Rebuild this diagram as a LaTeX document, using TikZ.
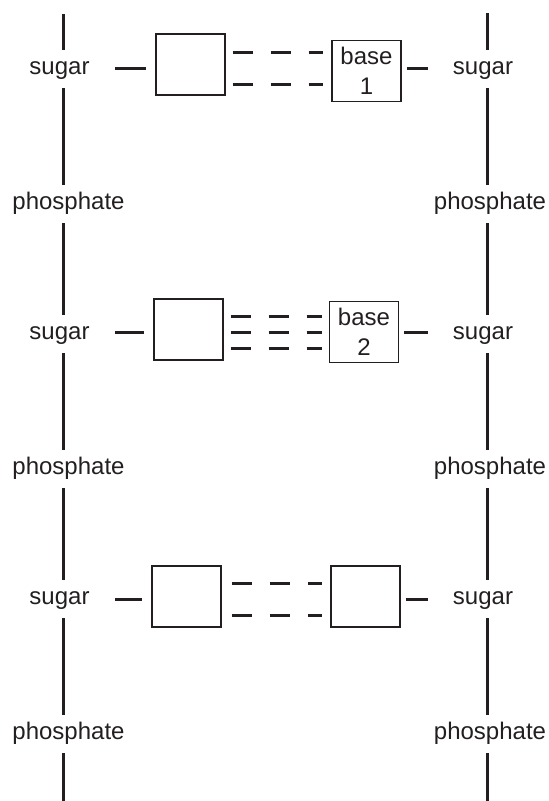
\documentclass[tikz,border=0pt]{standalone}
\usepackage{fontspec}
\setmainfont{Liberation Sans}
\begin{document}
\definecolor{ink}{HTML}{231F20}
\begin{tikzpicture}[x=1pt,y=-1pt,
  lbl/.style={font=\fontsize{24}{28}\selectfont, text=ink, inner sep=0pt,
              text height=16pt, text depth=6pt, minimum height=38pt},
  spine/.style={line width=3pt, draw=ink},
  bond/.style={line width=3pt, draw=ink},
  hbond/.style={bond, dash pattern=on 20pt off 18pt},
  basebox/.style={draw=ink, line width=1.2pt, minimum width=69pt, minimum height=61pt,
                  inner sep=0pt, align=center, text=ink, font=\fontsize{24}{30}\selectfont}]
\useasboundingbox (0,0) rectangle (549,801);

% labels
\foreach \r/\dy in {1/0,2/265,3/530}{
  \node[lbl] (sL\r) at (59.5,69+\dy) {sugar};
  \node[lbl] (pL\r) at (68.5,204+\dy) {phosphate};
  \node[lbl] (sR\r) at (483,69+\dy) {sugar};
  \node[lbl] (pR\r) at (490,204+\dy) {phosphate};
}

% spines
\coordinate (tL) at (63,14);  \coordinate (bL) at (63,801);
\coordinate (tR) at (487,13); \coordinate (bR) at (487,801);
\draw[spine] (tL) -- (tL |- sL1.north);
\draw[spine] (tR) -- (tR |- sR1.north);
\foreach \r in {1,2,3}{
  \draw[spine] (tL |- sL\r.south) -- (tL |- pL\r.north);
  \draw[spine] (tR |- sR\r.south) -- (tR |- pR\r.north);
}
\foreach \r/\n in {1/2,2/3}{
  \draw[spine] (tL |- pL\r.south) -- (tL |- sL\n.north);
  \draw[spine] (tR |- pR\r.south) -- (tR |- sR\n.north);
}
\draw[spine] (tL |- pL3.south) -- (bL);
\draw[spine] (tR |- pR3.south) -- (bR);

% row levels
\coordinate (y1) at (0,68);
\coordinate (y2) at (0,332);
\coordinate (y3) at (0,599);

% boxes
\node[basebox] (bL1) at (190.5,64.5) {};
\node[basebox] (bR1) at (366.5,71) {base\\1};
\node[basebox] (bL2) at (188.5,329.5) {};
\node[basebox] (bR2) at (364,332) {base\\2};
\node[basebox] (bL3) at (186.5,596.5) {};
\node[basebox] (bR3) at (365.5,596.5) {};

% connectors sugar - box
\foreach \r in {1,2,3}{
  \draw[bond] (115,0 |- y\r) coordinate (a\r) -- ([xshift=-9pt]bL\r.west |- y\r);
  \draw[bond] ([xshift=5pt]bR\r.east |- y\r) -- ([xshift=-25pt]sR\r.west |- y\r);
}

% hydrogen bonds
\draw[hbond] ([shift={(7pt,16pt)}]bL1.east |- y1) -- ([shift={(-8pt,16pt)}]bR1.west |- y1);
\draw[hbond] ([shift={(7pt,-16pt)}]bL1.east |- y1) -- ([shift={(-8pt,-16pt)}]bR1.west |- y1);

\draw[hbond] ([shift={(7pt,16pt)}]bL2.east |- y2) -- ([shift={(-7pt,16pt)}]bR2.west |- y2);
\draw[hbond] ([shift={(7pt,0pt)}]bL2.east |- y2) -- ([shift={(-7pt,0pt)}]bR2.west |- y2);
\draw[hbond] ([shift={(7pt,-16pt)}]bL2.east |- y2) -- ([shift={(-7pt,-16pt)}]bR2.west |- y2);

\draw[hbond] ([shift={(10pt,16pt)}]bL3.east |- y3) -- ([shift={(-8pt,16pt)}]bR3.west |- y3);
\draw[hbond] ([shift={(10pt,-16pt)}]bL3.east |- y3) -- ([shift={(-8pt,-16pt)}]bR3.west |- y3);
\end{tikzpicture}
\end{document}
